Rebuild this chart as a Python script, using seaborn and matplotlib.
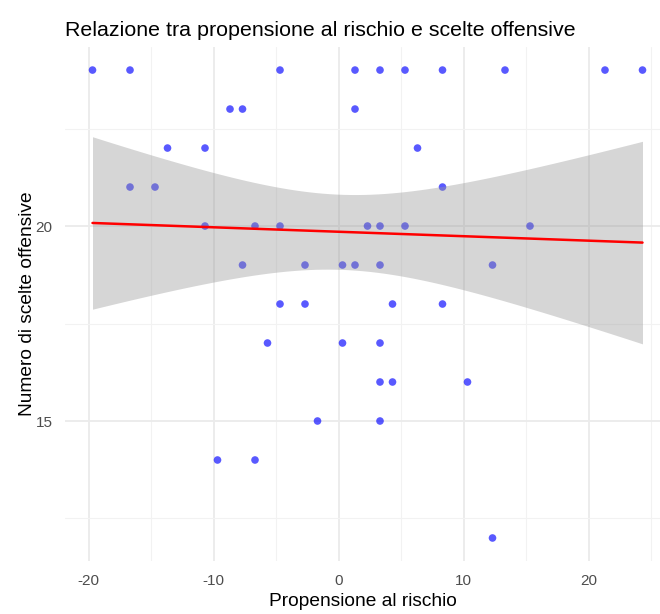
import numpy as np
import pandas as pd
import seaborn as sns
import matplotlib.pyplot as plt
from matplotlib.ticker import MultipleLocator

# propensione al rischio (centrata) per ciascun livello di scelte offensive
x_24 = [-19.7, -16.7, -4.7, 1.3, 3.3, 5.3, 8.3, 13.3, 21.3, 24.3]
x_23 = [-8.7, -7.7, 1.3]
x_22 = [-13.7, -10.7, 6.3]
x_21 = [-16.7, -14.7, 8.3]
x_20 = [-10.7, -6.7, -4.7, 2.3, 3.3, 5.3, 15.3]
x_19 = [-7.7, -2.7, 0.3, 1.3, 3.3, 12.3]
x_18 = [-4.7, -2.7, 4.3, 8.3]
x_17 = [-5.7, 0.3, 3.3]
x_16 = [3.3, 4.3, 10.3]
x_15 = [-1.7, 3.3]
x_14 = [-9.7, -6.7]
x_12 = [12.3]

groups = {24: x_24, 23: x_23, 22: x_22, 21: x_21, 20: x_20, 19: x_19,
          18: x_18, 17: x_17, 16: x_16, 15: x_15, 14: x_14, 12: x_12}
rows = [(xv, yv) for yv, xs in groups.items() for xv in xs]
df = pd.DataFrame(rows, columns=['propensione', 'scelte'])

# banda di confidenza analitica (come geom_smooth method = "lm")
x = df['propensione'].to_numpy()
y = df['scelte'].to_numpy()
n = len(x)
b1, b0 = np.polyfit(x, y, 1)
resid = y - (b0 + b1 * x)
s = np.sqrt((resid ** 2).sum() / (n - 2))
sxx = ((x - x.mean()) ** 2).sum()
grid = np.linspace(x.min(), x.max(), 80)
fit = b0 + b1 * grid
se = s * np.sqrt(1 / n + (grid - x.mean()) ** 2 / sxx)
t_crit = 2.014  # t(0.975, df=45)

sns.set_theme(style='white')
plt.rcParams['font.family'] = ['Liberation Sans', 'DejaVu Sans']
plt.rcParams['axes.unicode_minus'] = False

fig = plt.figure(figsize=(6.6, 6.14), dpi=100)
ax = fig.add_axes([0.0985, 0.0857, 0.9015, 0.8383])

sns.scatterplot(data=df, x='propensione', y='scelte', color='blue', alpha=0.65,
                s=30, edgecolor='none', ax=ax, zorder=2)
ax.fill_between(grid, fit - t_crit * se, fit + t_crit * se,
                color='#999999', alpha=0.4, lw=0, zorder=3)
sns.regplot(data=df, x='propensione', y='scelte', scatter=False, ci=None,
            ax=ax, line_kws={'color': 'red', 'lw': 1.8, 'zorder': 4})

ax.set_xlim(-21.9, 25.7)
ax.set_ylim(11.4, 24.6)
ax.xaxis.set_major_locator(MultipleLocator(10))
ax.xaxis.set_minor_locator(MultipleLocator(5))
ax.yaxis.set_major_locator(MultipleLocator(5))
ax.yaxis.set_minor_locator(MultipleLocator(2.5))
ax.grid(which='major', color='#EBEBEB', lw=1.3)
ax.grid(which='minor', color='#F2F2F2', lw=0.8)
ax.set_axisbelow(True)
for sp in ax.spines.values():
    sp.set_visible(False)
ax.tick_params(which='both', length=0, labelsize=11, labelcolor='#4D4D4D', pad=9)

ax.set_xlabel('Propensione al rischio', fontsize=13.8, color='black', labelpad=4)
ax.set_ylabel('Numero di scelte offensive', fontsize=13.8, color='black', labelpad=0)
ax.set_title('Relazione tra propensione al rischio e scelte offensive',
             loc='left', fontsize=15.4, color='black', pad=8)

fig.savefig('out.png', dpi=100)
